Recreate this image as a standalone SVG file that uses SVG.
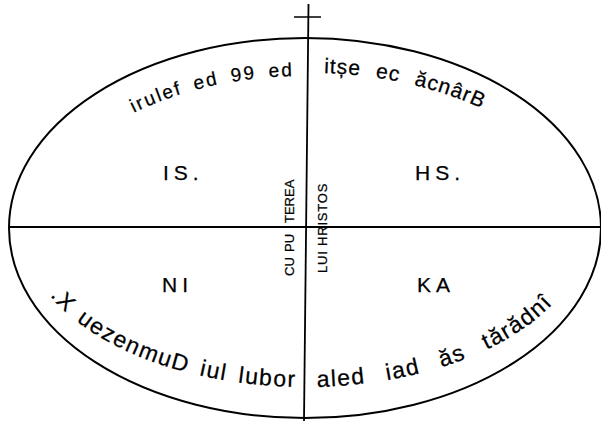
<svg xmlns="http://www.w3.org/2000/svg" width="601" height="421" viewBox="0 0 601 421">
<style>
.ln{stroke:#000;fill:none}
.t{font-family:"Liberation Sans",Arial,sans-serif;fill:#000;stroke:#000;stroke-width:0.25}
.q{font-size:21px;letter-spacing:5px}
.v{font-size:13px}
.b{font-size:23px;letter-spacing:1.5px}
</style>
<defs>
<path id="pTL" d="M 134 112.8 A 262 152 0 0 1 400 86.3"/>
<path id="pTR" d="M 324 72.9 A 277 155.5 0 0 1 575 193.3"/>
<path id="pBL" d="M 50 295.9 A 282 159 0 0 0 400 377.7"/>
<path id="pBR" d="M 317 386.9 A 282 159 0 0 0 587 228"/>
</defs>
<rect width="601" height="421" fill="#fff"/>
<g id="frame">
<ellipse class="ln" cx="305" cy="228" rx="296" ry="190" stroke-width="2"/>
<line class="ln" x1="9" y1="227" x2="601" y2="227" stroke-width="1.8"/>
<line class="ln" x1="308.5" y1="4" x2="304" y2="421" stroke-width="1.8"/>
<line class="ln" x1="294" y1="17" x2="321" y2="17" stroke-width="1.5"/>
</g>
<g id="arc-top" class="t">
<text font-size="19" letter-spacing="2" word-spacing="5"><textPath href="#pTL">irulef ed 99 ed</textPath></text>
<text font-size="21" letter-spacing="1" word-spacing="8"><textPath href="#pTR">itșe ec ăcnârB</textPath></text>
</g>
<g id="arc-bottom-left" class="t b">
<text><textPath href="#pBL">.X</textPath></text>
<text><textPath href="#pBL" startOffset="36.6">uezenmuD</textPath></text>
<text><textPath href="#pBL" startOffset="171.7">iul</textPath></text>
<text><textPath href="#pBL" startOffset="211.1">lubor</textPath></text>
</g>
<g id="arc-bottom-right" class="t b">
<text><textPath href="#pBR">aled</textPath></text>
<text><textPath href="#pBR" startOffset="70.4">iad</textPath></text>
<text><textPath href="#pBR" startOffset="126.4">ăs</textPath></text>
<text><textPath href="#pBR" startOffset="174.6">tărădnî</textPath></text>
</g>
<g id="quadrants" class="t q">
<text x="163" y="180">IS.</text>
<text x="415" y="180">HS.</text>
<text x="162" y="292">NI</text>
<text x="417" y="292">KA</text>
</g>
<g id="vertical" class="t v">
<text transform="translate(294,276) rotate(-90)"><tspan x="0">CU</tspan><tspan x="24">PU</tspan><tspan x="53">TEREA</tspan></text>
<text transform="translate(327,273) rotate(-90)" letter-spacing="0.8">LUI HRISTOS</text>
</g>
</svg>
